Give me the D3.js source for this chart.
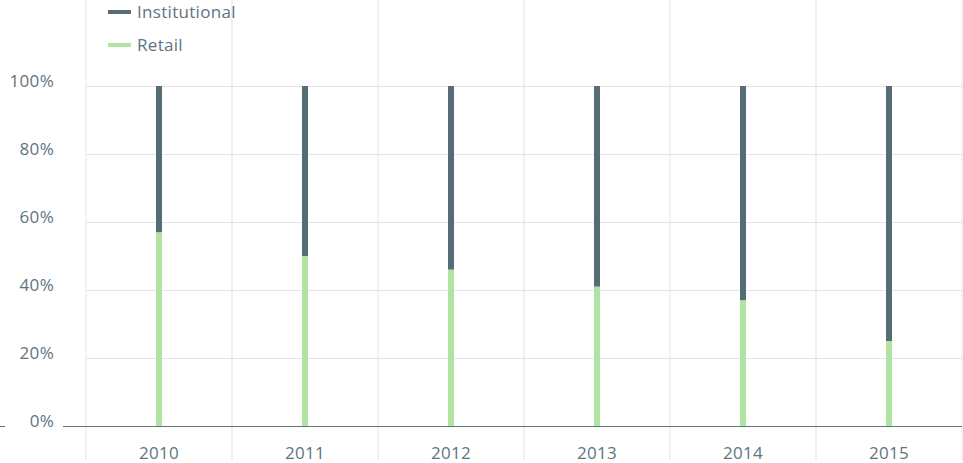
<!DOCTYPE html>
<html>
<head>
<meta charset="utf-8">
<script src="https://cdn.jsdelivr.net/npm/d3@7"></script>
<style>
  body { margin: 0; background: #fff; }
  svg { display: block; font-family: "Open Sans", "Noto Sans", sans-serif; letter-spacing: 0.3px; }
</style>
</head>
<body>
<svg width="963" height="463"></svg>
<script>
var years = ["2010", "2011", "2012", "2013", "2014", "2015"];
var retail = [57, 50, 46, 41, 37, 25];
var institutional = [43, 50, 54, 59, 63, 75];
var seriesNames = ["Institutional", "Retail"];
var yTicks = [0, 20, 40, 60, 80, 100];

var svg = d3.select("svg"),
    margin = {top: 86, right: 1, bottom: 37, left: 86},
    width = +svg.attr("width") - margin.left - margin.right,
    height = +svg.attr("height") - margin.top - margin.bottom,
    g = svg.append("g").attr("transform", "translate(" + margin.left + "," + margin.top + ")");

var textColor = "#5f7380";
var colors = {Institutional: "#566d75", Retail: "#b3e3a2"};

var data = years.map(function(y, i) {
  return {year: y, Retail: retail[i], Institutional: institutional[i]};
});

var x = d3.scaleBand().domain(years).range([0, width]);
var y = d3.scaleLinear().domain([0, 100]).range([height, 0]);

// vertical grid lines at band edges
var edges = years.map(function(d) { return x(d); }).concat([width]);
g.append("g").selectAll("line")
  .data(edges)
  .enter().append("line")
    .attr("x1", function(d) { return d; })
    .attr("x2", function(d) { return d; })
    .attr("y1", -margin.top)
    .attr("y2", height + 34)
    .attr("stroke", "#e3e3e8")
    .attr("stroke-width", 1);

// horizontal grid lines
g.append("g").selectAll("line")
  .data(yTicks.slice(1))
  .enter().append("line")
    .attr("x1", 0)
    .attr("x2", width)
    .attr("y1", function(d) { return y(d) + 0.5; })
    .attr("y2", function(d) { return y(d) + 0.5; })
    .attr("stroke", "#e3e3e8")
    .attr("stroke-width", 1);

// stacked bars
var stack = d3.stack().keys(["Retail", "Institutional"]);
var barW = 6;
g.append("g").selectAll("g")
  .data(stack(data))
  .enter().append("g")
    .attr("fill", function(d) { return colors[d.key]; })
  .selectAll("rect")
  .data(function(d) { return d; })
  .enter().append("rect")
    .attr("x", function(d) { return x(d.data.year) + x.bandwidth() / 2 - barW / 2; })
    .attr("y", function(d) { return y(d[1]); })
    .attr("width", barW)
    .attr("height", function(d) { return y(d[0]) - y(d[1]); });

// x axis line (with gap behind the 0% label)
g.append("line")
  .attr("x1", -margin.left).attr("x2", -81)
  .attr("y1", height + 0.5).attr("y2", height + 0.5)
  .attr("stroke", textColor);
g.append("line")
  .attr("x1", -23).attr("x2", width)
  .attr("y1", height + 0.5).attr("y2", height + 0.5)
  .attr("stroke", textColor);

// y tick labels
g.append("g").selectAll("text")
  .data(yTicks)
  .enter().append("text")
    .attr("x", -32)
    .attr("y", function(d) { return y(d) - 5; })
    .attr("dy", "0.35em")
    .attr("text-anchor", "end")
    .attr("fill", textColor)
    .attr("font-size", 17)
    .text(function(d) { return d + "%"; });

// x tick labels
g.append("g").selectAll("text")
  .data(years)
  .enter().append("text")
    .attr("x", function(d) { return x(d) + x.bandwidth() / 2; })
    .attr("y", height + 27)
    .attr("dy", "0.35em")
    .attr("text-anchor", "middle")
    .attr("fill", textColor)
    .attr("font-size", 17)
    .text(function(d) { return d; });

// legend
var legend = svg.append("g").selectAll("g")
  .data(seriesNames)
  .enter().append("g")
    .attr("transform", function(d, i) { return "translate(108," + (12 + i * 33) + ")"; });

legend.append("rect")
  .attr("x", 0).attr("y", -2)
  .attr("width", 23).attr("height", 4)
  .attr("fill", function(d) { return colors[d]; });

legend.append("text")
  .attr("x", 29)
  .attr("y", 0)
  .attr("dy", "0.35em")
  .attr("fill", textColor)
  .attr("font-size", 17)
  .text(function(d) { return d; });
</script>
</body>
</html>
